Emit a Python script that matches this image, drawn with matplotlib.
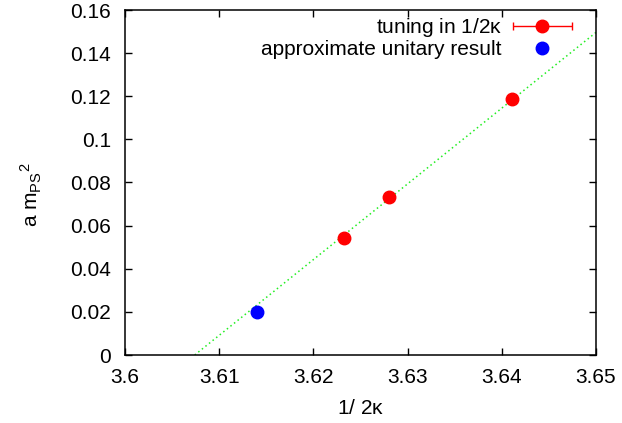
import numpy as np
import matplotlib.pyplot as plt
from matplotlib.container import ErrorbarContainer
from matplotlib.legend_handler import HandlerErrorbar

plt.rcParams['font.family'] = ['Liberation Sans', 'DejaVu Sans']
plt.rcParams['mathtext.fontset'] = 'custom'
plt.rcParams['mathtext.rm'] = 'Liberation Sans'
plt.rcParams['mathtext.it'] = 'Liberation Sans'

# data
tuning_x = [3.6232, 3.6280, 3.6411]
tuning_y = [0.0542, 0.0731, 0.1187]
tuning_xerr = [0.0003, 0.0003, 0.0003]
unitary_x = [3.6140]
unitary_y = [0.0198]

# linear fit: crosses zero at fit_x0, slope fit_slope
fit_x0 = 3.6074
fit_slope = 3.512

xticks = [3.6, 3.61, 3.62, 3.63, 3.64, 3.65]
xticklabels = ['3.6', '3.61', '3.62', '3.63', '3.64', '3.65']
yticks = [0, 0.02, 0.04, 0.06, 0.08, 0.1, 0.12, 0.14, 0.16]
yticklabels = ['0', '0.02', '0.04', '0.06', '0.08', '0.1', '0.12', '0.14', '0.16']

FS = 15

fig = plt.figure(figsize=(6.22, 4.23), dpi=100)
ax = fig.add_axes([125/622, 68/423, 471/622, 345/423])

xf = np.linspace(fit_x0, 3.65, 50)
ax.plot(xf, fit_slope*(xf - fit_x0), color='#22ee22', lw=1.1, ls=(0, (1, 2)))

eb = ax.errorbar(tuning_x, tuning_y, xerr=tuning_xerr, fmt='o', color='red', ms=9,
                 elinewidth=1, capsize=3, label=r'tuning in 1/2$\kappa$')
un, = ax.plot(unitary_x, unitary_y, 'o', color='blue', ms=9, label='approximate unitary result')

ax.set_xlim(3.6, 3.65)
ax.set_ylim(0, 0.16)
ax.set_xticks(xticks)
ax.set_xticklabels(xticklabels)
ax.set_yticks(yticks)
ax.set_yticklabels(yticklabels)
ax.tick_params(direction='in', top=True, right=True, length=5, width=1, labelsize=FS)
ax.tick_params(axis='x', pad=9)
ax.tick_params(axis='y', pad=10)
for s in ax.spines.values():
    s.set_linewidth(1.1)

ax.set_xlabel(r'1/ 2$\kappa$', fontsize=FS)
ax.xaxis.set_label_coords(0.5, -0.128)
ax.set_ylabel(r'a m$_{\rm PS}{}^{2}$', fontsize=FS)
ax.yaxis.set_label_coords(-0.172, 0.464)

ax.legend([eb, un], [eb.get_label(), un.get_label()],
          handler_map={ErrorbarContainer: HandlerErrorbar(xerr_size=1.42)},
          loc='upper right', frameon=False, markerfirst=False, fontsize=FS,
          handlelength=2.84, handletextpad=0.53, labelspacing=0.05,
          bbox_to_anchor=((572-125)/471, (355-16)/345), borderaxespad=0, borderpad=0)

fig.savefig('out.png', dpi=100)
